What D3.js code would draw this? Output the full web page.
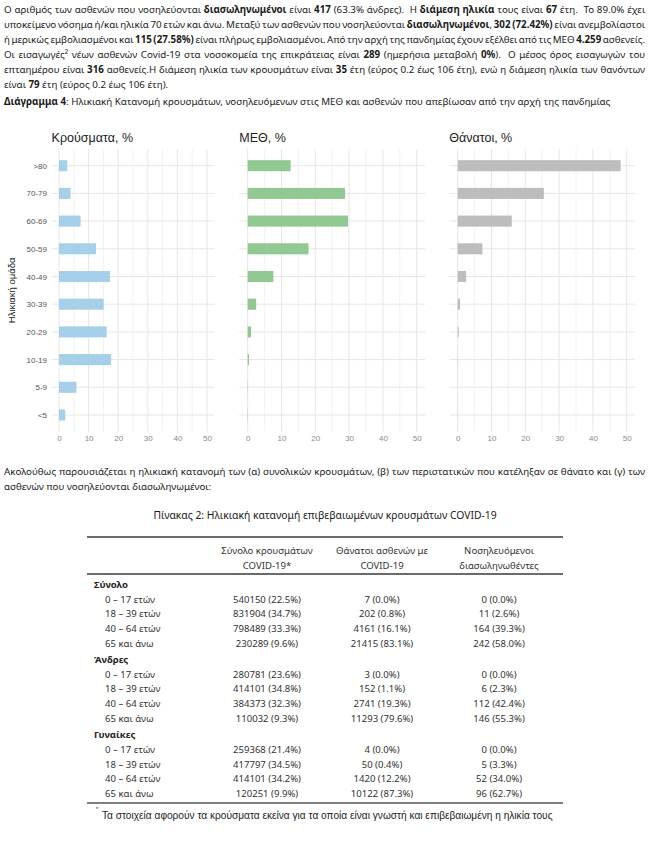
<!DOCTYPE html>
<html><head><meta charset="utf-8">
<script src="https://cdn.jsdelivr.net/npm/d3@7"></script>
<style>html,body{margin:0;padding:0;background:#fff;} svg text{white-space:pre;}</style>
</head><body>
<script>
// ---------------- DATA ----------------
const ageGroups = [">80","70-79","60-69","50-59","40-49","30-39","20-29","10-19","5-9","<5"];
const casesPct  = [2.8, 3.9, 7.3, 12.5, 17.2, 15.1, 16.1, 17.6, 5.9, 2.1];
const icuPct    = [12.7, 28.8, 29.7, 18.0, 7.6, 2.5, 1.0, 0.4, 0.1, 0.1];
const deathsPct = [48.2, 25.5, 16.0, 7.3, 2.5, 0.7, 0.3, 0.1, 0.0, 0.05];
const xTicks = [0,10,20,30,40,50];
const panelTitles = ["Κρούσματα, %","ΜΕΘ, %","Θάνατοι, %"];
const yAxisTitle = "Ηλικιακή ομάδα";

const tableHeaders = [["Σύνολο κρουσμάτων","COVID-19*"],["Θάνατοι ασθενών με","COVID-19"],["Νοσηλευόμενοι","διασωληνωθέντες"]];
const tableGroups = ["Σύνολο","Άνδρες","Γυναίκες"];
const tableAgeRows = ["0 – 17 ετών","18 – 39 ετών","40 – 64 ετών","65 και άνω"];
const casesCounts  = [[540150,831904,798489,230289],[280781,414101,384373,110032],[259368,417797,414101,120251]];
const casesShare   = [[22.5,34.7,33.3,9.6],[23.6,34.8,32.3,9.3],[21.4,34.5,34.2,9.9]];
const deathsCounts = [[7,202,4161,21415],[3,152,2741,11293],[4,50,1420,10122]];
const deathsShare  = [[0.0,0.8,16.1,83.1],[0.0,1.1,19.3,79.6],[0.0,0.4,12.2,87.3]];
const intubCounts  = [[0,11,164,242],[0,6,112,146],[0,5,52,96]];
const intubShare   = [[0.0,2.6,39.3,58.0],[0.0,2.3,42.4,55.3],[0.0,3.3,34.0,62.7]];

const paraLines = [
 [["Ο αριθμός των ασθενών που νοσηλεύονται ",0],["διασωληνωμένοι",1],[" είναι ",0],["417",1],[" (63.3% άνδρες).  Η ",0],["διάμεση ηλικία",1],[" τους είναι ",0],["67",1],[" έτη.  Το 89.0% έχει",0]],
 [["υποκείμενο νόσημα ή/και ηλικία 70 ετών και άνω. Μεταξύ των ασθενών που νοσηλεύονται ",0],["διασωληνωμένοι",1],[", ",0],["302 (72.42%)",1],[" είναι ανεμβολίαστοι",0]],
 [["ή μερικώς εμβολιασμένοι και ",0],["115 (27.58%)",1],[" είναι πλήρως εμβολιασμένοι. Από την αρχή της πανδημίας έχουν εξέλθει από τις ΜΕΘ ",0],["4.259",1],[" ασθενείς.",0]],
 [["Οι εισαγωγές² νέων ασθενών Covid-19 στα νοσοκομεία της επικράτειας είναι ",0],["289",1],[" (ημερήσια μεταβολή ",0],["0%",1],[").  Ο μέσος όρος εισαγωγών του",0]],
 [["επταημέρου είναι ",0],["316",1],[" ασθενείς.Η διάμεση ηλικία των κρουσμάτων είναι ",0],["35",1],[" έτη (εύρος 0.2 έως 106 έτη), ενώ η διάμεση ηλικία των θανόντων",0]],
 [["είναι ",0],["79",1],[" έτη (εύρος 0.2 έως 106 έτη).",0]]
];
const figCaption = [["Διάγραμμα 4",1],[": Ηλικιακή Κατανομή κρουσμάτων, νοσηλευόμενων στις ΜΕΘ και ασθενών που απεβίωσαν από την αρχή της πανδημίας",0]];
const introLines = [
 [["Ακολούθως παρουσιάζεται η ηλικιακή κατανομή των (α) συνολικών κρουσμάτων, (β) των περιστατικών που κατέληξαν σε θάνατο και (γ) των",0]],
 [["ασθενών που νοσηλεύονται διασωληνωμένοι:",0]]
];
const tableTitle = "Πίνακας 2: Ηλικιακή κατανομή επιβεβαιωμένων κρουσμάτων COVID-19";
const footnote = "Τα στοιχεία αφορούν τα κρούσματα εκείνα για τα οποία είναι γνωστή και επιβεβαιωμένη η ηλικία τους";

// ---------------- SETUP ----------------
const W = 650, H = 841;
const svg = d3.select("body").append("svg").attr("width", W).attr("height", H);
svg.append("rect").attr("width", W).attr("height", H).attr("fill", "#fff");

const BODY = "'Noto Sans', 'Open Sans', sans-serif";
const CHART = "'Liberation Sans', Arial, sans-serif";

function mkText(g, segs, size, family, fill) {
  const t = g.append("text").attr("font-family", family).attr("font-size", size).attr("fill", fill);
  segs.forEach(([s, b]) => t.append("tspan").text(s).attr("font-weight", b ? "bold" : null));
  return t;
}
function natW(t) { return t.node().getComputedTextLength(); }
function countSpaces(segs) { return segs.map(s => s[0]).join("").split(" ").length - 1; }

const LINE0 = 9.5, LSTEP = 15.1;

// condense factor from the (non-justified) figure caption
const capT = mkText(svg, figCaption, 9.8, BODY, "#1a1a1a");
const c = 607 / natW(capT);
capT.attr("transform", `translate(4,${LINE0 + LSTEP * 6 + 1.5 + 3.5}) scale(${c},1)`);

function justified(segs, x, yc, T, size) {
  const t = mkText(svg, segs, size, BODY, "#1a1a1a");
  const w = natW(t);
  const n = countSpaces(segs);
  const ws = (T - c * w) / (c * n);
  t.attr("word-spacing", ws).attr("transform", `translate(${x},${yc + 3.5}) scale(${c},1)`);
  return t;
}
function plain(segs, x, yc, size, anchor, fill, fam, sx) {
  const t = mkText(svg, segs, size, fam || BODY, fill || "#1a1a1a");
  if (anchor) t.attr("text-anchor", anchor);
  t.attr("transform", `translate(${x},${yc + size * 0.35}) scale(${sx || c},1)`);
  return t;
}

// paragraph
paraLines.forEach((segs, i) => {
  const yc = LINE0 + LSTEP * i;
  if (i < paraLines.length - 1) justified(segs, 4, yc, 642, 9.8);
  else plain(segs, 4, yc, 9.8);
});

// ---------------- CHARTS ----------------
const y = d3.scalePoint().domain(ageGroups).range([165.7, 415]);
const step = y.step();
const panelTop = y(ageGroups[0]) - 0.6 * step;
const panelBot = y(ageGroups[ageGroups.length - 1]) + 0.6 * step;
const barH = 0.4 * step;

const panels = [
  {title: panelTitles[0], values: casesPct, color: "#a6cfe9", r: [59, 207]},
  {title: panelTitles[1], values: icuPct, color: "#92c993", r: [247.7, 416.7]},
  {title: panelTitles[2], values: deathsPct, color: "#bdbdbd", r: [457.7, 626.7]}
];

panels.forEach((p, pi) => {
  const x = d3.scaleLinear().domain([0, 50]).range(p.r);
  const g = svg.append("g");
  const left = x(-2.5), right = x(52.5);
  g.selectAll(".minor").data(d3.range(5, 50, 10)).enter().append("line")
    .attr("x1", d => x(d)).attr("x2", d => x(d)).attr("y1", panelTop).attr("y2", panelBot)
    .attr("stroke", "#efefef").attr("stroke-width", 0.8);
  g.selectAll(".major").data(xTicks).enter().append("line")
    .attr("x1", d => x(d)).attr("x2", d => x(d)).attr("y1", panelTop).attr("y2", panelBot)
    .attr("stroke", "#e6e6e6").attr("stroke-width", 1);
  g.selectAll(".hg").data(ageGroups).enter().append("line")
    .attr("x1", left).attr("x2", right).attr("y1", d => y(d)).attr("y2", d => y(d))
    .attr("stroke", "#e6e6e6").attr("stroke-width", 1);
  g.selectAll(".bar").data(ageGroups).enter().append("rect")
    .attr("x", x(0)).attr("y", d => y(d) - barH / 2)
    .attr("width", (d, i) => Math.max(0, x(p.values[i]) - x(0)))
    .attr("height", barH).attr("fill", p.color);
  const ax = d3.axisBottom(x).tickValues(xTicks).tickSize(0).tickPadding(0);
  const axG = g.append("g").attr("transform", `translate(0,${435})`).call(ax);
  axG.select(".domain").remove();
  axG.selectAll("text").attr("font-family", CHART).attr("font-size", 8).attr("fill", "#8a8a8a").attr("dy", "0.71em");
  g.append("text").attr("x", left).attr("y", 141.5).attr("font-family", CHART).attr("font-size", 12.5)
    .attr("fill", "#222").text(p.title);
  if (pi === 0) {
    const ay = d3.axisLeft(y).tickSize(0).tickPadding(0);
    const ayG = g.append("g").attr("transform", `translate(47,0)`).call(ay);
    ayG.select(".domain").remove();
    ayG.selectAll("text").attr("font-family", CHART).attr("font-size", 8).attr("fill", "#555");
    g.append("text").attr("transform", `translate(15,${(panelTop + panelBot) / 2}) rotate(-90)`)
      .attr("text-anchor", "middle").attr("font-family", CHART).attr("font-size", 9.5).attr("fill", "#222")
      .text(yAxisTitle);
  }
});

// ---------------- INTRO + TABLE ----------------
justified(introLines[0], 4, 471, 642, 9.8);
plain(introLines[1], 4, 487, 9.8);

{
  const t = mkText(svg, [[tableTitle, 0]], 10.5, BODY, "#1a1a1a").attr("text-anchor", "middle");
  const s = 344 / natW(t);
  t.attr("transform", `translate(325,${515.5 + 3.7}) scale(${s},1)`);
}

const TL = 87, TR = 563;
svg.append("line").attr("x1", TL).attr("x2", TR).attr("y1", 537).attr("y2", 537).attr("stroke", "#6b6b6b").attr("stroke-width", 2);
svg.append("line").attr("x1", TL).attr("x2", TR).attr("y1", 574).attr("y2", 574).attr("stroke", "#6b6b6b").attr("stroke-width", 2);
svg.append("line").attr("x1", TL).attr("x2", TR).attr("y1", 803).attr("y2", 803).attr("stroke", "#555").attr("stroke-width", 1.3);

const colX = [267, 382, 499];
tableHeaders.forEach((h, i) => {
  plain([[h[0], 0]], colX[i], 551, 9.6, "middle", "#333");
  plain([[h[1], 0]], colX[i], 565.5, 9.6, "middle", "#333");
});

const groupY = [584.5, 659.5, 734.6];
const rowGap = 14.6, firstGap = 15;
const fmt = (n, s) => `${n} (${s.toFixed(1)}%)`;
tableGroups.forEach((gname, gi) => {
  plain([[gname, 1]], 94, groupY[gi], 9.6, null, "#222");
  tableAgeRows.forEach((r, ri) => {
    const yc = groupY[gi] + firstGap + rowGap * ri;
    plain([[r, 0]], 105, yc, 9.6, null, "#333");
    plain([[fmt(casesCounts[gi][ri], casesShare[gi][ri]), 0]], colX[0], yc, 9.6, "middle", "#333");
    plain([[fmt(deathsCounts[gi][ri], deathsShare[gi][ri]), 0]], colX[1], yc, 9.6, "middle", "#333");
    plain([[fmt(intubCounts[gi][ri], intubShare[gi][ri]), 0]], colX[2], yc, 9.6, "middle", "#333");
  });
});

svg.append("text").attr("x", 96).attr("y", 811).attr("font-family", CHART).attr("font-size", 6).attr("fill", "#222").text("*");
{
  const t = mkText(svg, [[footnote, 0]], 10, CHART, "#222");
  const s = 451 / natW(t);
  t.attr("transform", `translate(102,${815 + 3.5}) scale(${s},1)`);
}
</script>
</body></html>
